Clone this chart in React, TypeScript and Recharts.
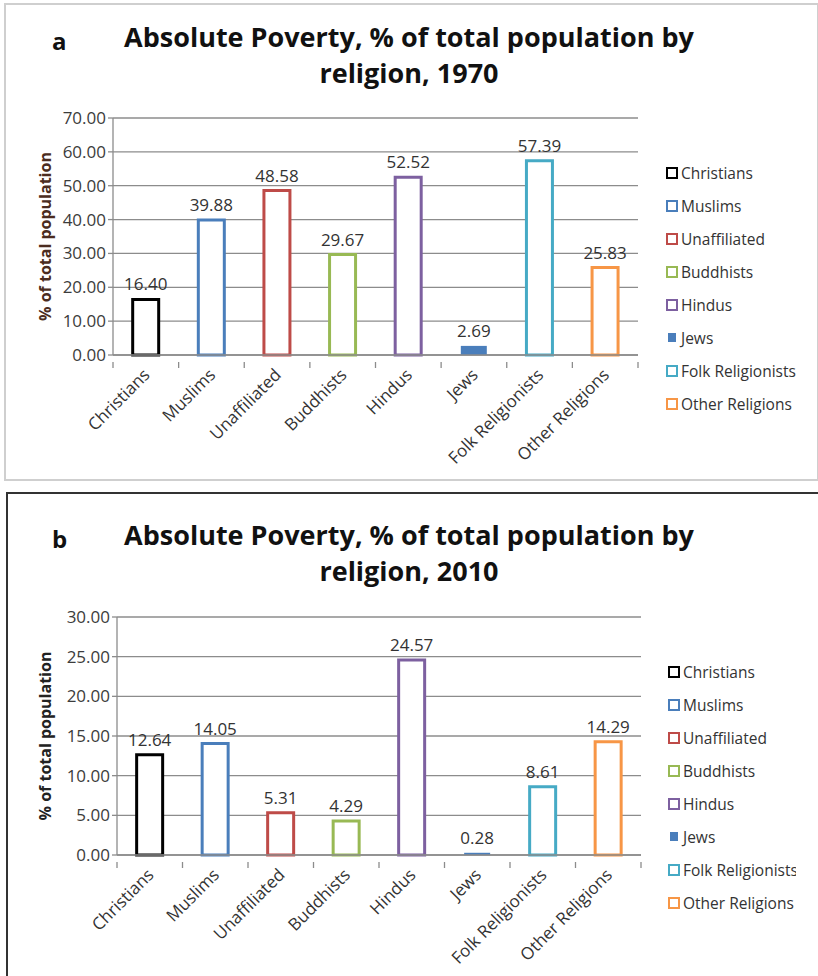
import React from "react";
import {
  BarChart,
  Bar,
  Cell,
  XAxis,
  YAxis,
  CartesianGrid,
  LabelList,
  Label,
  Legend,
} from "recharts";

const religions = [
  "Christians",
  "Muslims",
  "Unaffiliated",
  "Buddhists",
  "Hindus",
  "Jews",
  "Folk Religionists",
  "Other Religions",
];
const colors = [
  "#000000",
  "#4a7ebb",
  "#be4b48",
  "#98b954",
  "#7d60a0",
  "#4a7ebb",
  "#46aac5",
  "#f79646",
];
// Jews are drawn as a solid bar, all others as outlines
const filled = [false, false, false, false, false, true, false, false];

const poverty1970 = [16.4, 39.88, 48.58, 29.67, 52.52, 2.69, 57.39, 25.83];
const poverty2010 = [12.64, 14.05, 5.31, 4.29, 24.57, 0.28, 8.61, 14.29];

const ticks1970 = [0, 10, 20, 30, 40, 50, 60, 70];
const ticks2010 = [0, 5, 10, 15, 20, 25, 30];

const FONT = "'Open Sans', Arial, sans-serif";
const AXIS = "#8c8c8c";

// category label rotated -45deg, plus Excel-style tick marks between categories
const RotatedTick = (props: any) => {
  const { x, y, payload, index, band, count } = props;
  const left = x - band / 2;
  return (
    <g>
      <line x1={left} x2={left} y1={y - 1} y2={y + 5} stroke={AXIS} strokeWidth={1.3} />
      {index === count - 1 && (
        <line x1={x + band / 2} x2={x + band / 2} y1={y - 1} y2={y + 5} stroke={AXIS} strokeWidth={1.3} />
      )}
      <g transform={`translate(${x + 5},${y + 13})`}>
        <text
          transform="rotate(-45)"
          textAnchor="end"
          fontSize={17}
          fill="#333"
          fontFamily={FONT}
        >
          {payload.value}
        </text>
      </g>
    </g>
  );
};

const LegendList = ({ maxWidth }: { maxWidth: number }) => (
  <div style={{ fontFamily: FONT, fontSize: 15.5, color: "#333" }}>
    {religions.map((r, i) => (
      <div
        key={r}
        style={{
          height: 33,
          display: "flex",
          alignItems: "center",
          width: maxWidth,
          overflow: "hidden",
          whiteSpace: "nowrap",
        }}
      >
        <span
          style={{
            display: "inline-block",
            flex: "none",
            boxSizing: "border-box",
            width: filled[i] ? 8 : 12,
            height: filled[i] ? 9 : 12,
            marginLeft: filled[i] ? 2 : 0,
            marginRight: filled[i] ? 5 : 3,
            border: filled[i] ? "none" : `2.5px solid ${colors[i]}`,
            background: filled[i] ? colors[i] : "#fff",
          }}
        />
        {r}
      </div>
    ))}
  </div>
);

interface PanelProps {
  letter: string;
  year: string;
  values: number[];
  ticks: number[];
  top: number;
  height: number;
  border: any;
  plotTop: number;
  plotBottom: number;
  plotLeft: number;
  plotRight: number;
  legendLeft: number;
  legendTop: number;
  legendWidth: number;
  titleTop: number;
  yLabelColor: string;
}

const Panel = (p: PanelProps) => {
  const data = religions.map((name, i) => ({ name, value: p.values[i] }));
  const max = p.ticks[p.ticks.length - 1];
  const band = (p.plotRight - p.plotLeft) / religions.length;
  return (
    <div
      style={{
        position: "absolute",
        left: 0,
        top: p.top,
        width: 818,
        height: p.height,
      }}
    >
      <div style={{ position: "absolute", ...p.border }} />
      <div
        style={{
          position: "absolute",
          left: 52,
          top: p.titleTop,
          fontFamily: FONT,
          fontWeight: "bold",
          fontSize: 24,
          color: "#111",
        }}
      >
        {p.letter}
      </div>
      <div
        style={{
          position: "absolute",
          left: 0,
          width: 818,
          top: p.titleTop - 5,
          textAlign: "center",
          fontFamily: FONT,
          fontWeight: "bold",
          fontSize: 27,
          lineHeight: "36px",
          color: "#111",
        }}
      >
        Absolute Poverty, % of total population by
        <br />
        religion, {p.year}
      </div>
      <div style={{ position: "absolute", left: 0, top: 0 }}>
        <BarChart
          width={818}
          height={p.height}
          data={data}
          barCategoryGap="30%"
          margin={{
            top: p.plotTop,
            bottom: p.height - p.plotBottom - 1,
            left: 0,
            right: 818 - p.plotRight,
          }}
        >
          <CartesianGrid vertical={false} stroke={AXIS} strokeWidth={1.3} />
          <XAxis
            dataKey="name"
            interval={0}
            height={1}
            axisLine={{ stroke: AXIS, strokeWidth: 1.3 }}
            tickLine={false}
            tick={<RotatedTick band={band} count={religions.length} />}
          />
          <YAxis
            width={p.plotLeft}
            domain={[0, max]}
            ticks={p.ticks}
            interval={0}
            tickFormatter={(v: number) => v.toFixed(2)}
            tick={{ fontSize: 17, fill: "#3c3c3c", fontFamily: FONT }}
            axisLine={{ stroke: AXIS, strokeWidth: 1.3 }}
            tickLine={{ stroke: AXIS, strokeWidth: 1.3 }}
            tickSize={5}
          >
            <Label
              value="% of total population"
              angle={-90}
              position="center"
              dx={-p.plotLeft / 2 + 45}
              style={{
                fontSize: 16,
                fontWeight: "bold",
                fill: p.yLabelColor,
                fontFamily: FONT,
              }}
            />
          </YAxis>
          <Legend
            verticalAlign="middle"
            align="center"
            layout="vertical"
            wrapperStyle={{
              left: p.legendLeft,
              top: p.legendTop,
              width: p.legendWidth,
            }}
            content={() => <LegendList maxWidth={p.legendWidth} />}
          />
          <Bar dataKey="value" isAnimationActive={false} strokeWidth={3}>
            {data.map((d, i) => (
              <Cell
                key={d.name}
                stroke={colors[i]}
                fill={filled[i] ? colors[i] : "#ffffff"}
                strokeWidth={filled[i] ? 0 : 3}
              />
            ))}
            <LabelList
              dataKey="value"
              position="top"
              offset={9}
              formatter={(v: any) => Number(v).toFixed(2)}
              style={{ fontSize: 17, fill: "#333", fontFamily: FONT }}
            />
          </Bar>
        </BarChart>
      </div>
    </div>
  );
};

export default function App() {
  return (
    <div
      style={{
        position: "absolute",
        left: 0,
        top: 0,
        width: 818,
        height: 976,
        background: "#fff",
      }}
    >
      <Panel
        letter="a"
        year="1970"
        values={poverty1970}
        ticks={ticks1970}
        top={0}
        height={480}
        border={{
          left: 4,
          top: 3,
          width: 811,
          height: 474,
          border: "2px solid #cfcfcf",
        }}
        plotTop={118}
        plotBottom={355}
        plotLeft={113}
        plotRight={638}
        legendLeft={666}
        legendTop={156}
        legendWidth={150}
        titleTop={24}
        yLabelColor="#4b2c20"
      />
      <Panel
        letter="b"
        year="2010"
        values={poverty2010}
        ticks={ticks2010}
        top={480}
        height={496}
        border={{
          left: 6,
          top: 12,
          width: 812,
          height: 482,
          borderTop: "2px solid #333",
          borderLeft: "2px solid #333",
          borderRight: "1px solid #333",
          borderBottom: "1px solid #999",
        }}
        plotTop={137}
        plotBottom={375}
        plotLeft={117}
        plotRight={641}
        legendLeft={668}
        legendTop={175}
        legendWidth={128}
        titleTop={42}
        yLabelColor="#222"
      />
    </div>
  );
}
